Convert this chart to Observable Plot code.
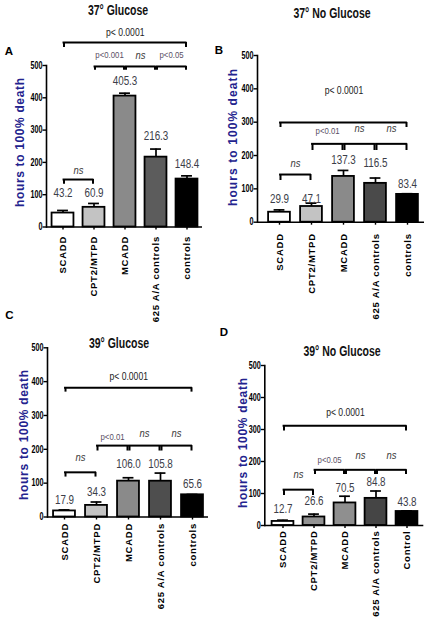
<!DOCTYPE html>
<html><head><meta charset="utf-8">
<script src="https://cdn.jsdelivr.net/npm/d3@7"></script>
<script src="https://cdn.jsdelivr.net/npm/@observablehq/plot@0.6"></script>
<style>
body{margin:0;background:#fff}
#root{position:relative;width:430px;height:618px;overflow:hidden;background:#fff}
.panel{position:absolute}
.panel svg{overflow:visible;background:transparent}
g[aria-label="y-axis tick label"] text{font-family:"Liberation Sans",Arial,sans-serif;font-weight:bold;font-size:10px}
g[aria-label="x-axis tick label"] text{font-family:"Liberation Sans",Arial,sans-serif;font-weight:bold;font-size:9.5px;letter-spacing:0.75px}
#overlay{position:absolute;left:0;top:0;pointer-events:none}
</style></head>
<body><div id="root"></div>
<script>
// ---------- data ----------
const categories = ["SCADD", "CPT2/MTPD", "MCADD", "625 A/A controls", "controls"];
const categoriesD = ["SCADD", "CPT2/MTPD", "MCADD", "625 A/A controls", "Control"];
const panelTitles = ["37° Glucose", "37° No Glucose", "39° Glucose", "39° No Glucose"];
const panelLetters = ["A", "B", "C", "D"];
const yLabel = "hours to 100% death";
const yTicks = [0, 100, 200, 300, 400, 500];

const meanA = [43.2, 60.9, 405.3, 216.3, 148.4];
const semA = [8, 12, 9, 25, 10];
const meanB = [29.9, 47.1, 137.3, 116.5, 83.4];
const semB = [7, 10, 18, 16, 2];
const meanC = [17.9, 34.3, 106.0, 105.8, 65.6];
const semC = [3, 10, 10, 24, 1];
const meanD = [12.7, 26.6, 70.5, 84.8, 43.8];
const semD = [4, 9, 21, 23, 2];

const pOverall = "p< 0.0001";
const pairsA = ["p<0.001", "ns", "p<0.05"];
const pairsB = ["p<0.01", "ns", "ns"];
const pairsC = ["p<0.01", "ns", "ns"];
const pairsD = ["p<0.05", "ns", "ns"];
const lowPair = "ns";

// ---------- layout / style ----------
const NARROW = 'Liberation Sans, Arial Narrow, sans-serif';   // squeezed horizontally after render
const ARIAL = '"Liberation Sans",Arial,sans-serif';
const layout = [
  {left:0, top:0, width:215, height:330, m:[65,13,103.5,46], xRange:[46.5,202], tickPad:6,
   fills:["#ffffff","#c3c3c3","#8a8a8a","#5c5c5c","#000000"], labelY:[105,105,452,280,196],
   outer:[571,556,601], inner:[497,485,534,530], low:[147,132,175],
   title:[118,10], letter:[9,51], ylab:[20,142.5,129]},
  {left:215, top:0, width:215, height:330, m:[55,6,108.3,42], xRange:[47.5,208.5], tickPad:8,
   fills:["#ffffff","#c3c3c3","#8a8a8a","#4a4a4a","#000000"], labelY:[70,70,185,176,115],
   outer:[299,284,395], inner:[235,215,275,281], low:[143,125,176],
   title:[332,13], letter:[219,50], ylab:[233,137.5,137]},
  {left:0, top:300, width:215, height:318, m:[47.3,7,101.5,47], xRange:[48,208.5], tickPad:3,
   fills:["#ffffff","#c3c3c3","#8a8a8a","#4e4e4e","#000000"], labelY:[51,73,157,157,98],
   outer:[382,369,415], inner:[211,195,236,246], low:[132,118,177],
   title:[119,342.7], letter:[9.5,315], ylab:[24,435,130]},
  {left:215, top:300, width:215, height:318, m:[65,6.7,93,49.3], xRange:[51,207], tickPad:2,
   fills:["#ffffff","#939393","#8f8f8f","#454545","#000000"], labelY:[52,76,118,135,73],
   outer:[312,295,354], inner:[174,159,205,219], low:[112,94,159],
   title:[342,350.7], letter:[224,331.5], ylab:[242.5,443,130]}
];

const root = document.getElementById("root");

function drawPanel(k) {
  const L = layout[k];
  const cats = k === 3 ? categoriesD : categories;
  const means = [meanA, meanB, meanC, meanD][k];
  const sems = [semA, semB, semC, semD][k];
  const pairs = [pairsA, pairsB, pairsC, pairsD][k];
  const rows = cats.map((c, i) => ({cat: c, mean: means[i], top: means[i] + sems[i],
    labelY: L.labelY[i], label: means[i].toFixed(1)}));
  const brackets = [
    {from: cats[0], to: cats[4], span: 4, label: pOverall, top: L.outer[0], tick: L.outer[1], textY: L.outer[2], kind: "outer"},
    ...pairs.map((p, j) => ({from: cats[j + 1], to: cats[j + 2], span: 1, label: p,
      top: L.inner[0], tick: L.inner[1], textY: p === "ns" ? L.inner[3] : L.inner[2], kind: "inner"})),
    {from: cats[0], to: cats[1], span: 1, label: lowPair, top: L.low[0], tick: L.low[1], textY: L.low[2], kind: "low"}
  ];
  const bw = (L.xRange[1] - L.xRange[0]) / cats.length;
  const gap = 1;
  const textStyle = (b) => {
    if (b.label === "ns") return {fontStyle: "italic", fontSize: 11.5, fill: "#3a3a3a", fontFamily: NARROW};
    if (b.kind === "outer") return {fontSize: 10.5, fill: "#222", fontFamily: NARROW};
    return {fontSize: 9.5, fill: "#5a4f66", fontFamily: NARROW};
  };
  const plot = Plot.plot({
    width: L.width, height: L.height,
    marginTop: L.m[0], marginRight: L.m[1], marginBottom: L.m[2], marginLeft: L.m[3],
    style: {background: "transparent", overflow: "visible", fontFamily: ARIAL, color: "#000"},
    x: {domain: cats, range: L.xRange, padding: 0},
    y: {domain: [0, 500]},
    color: {domain: cats, range: L.fills},
    marks: [
      Plot.barY(rows, {x: "cat", y: "mean", fill: "cat", stroke: "#000", strokeWidth: 1.8,
        insetLeft: (bw - 22) / 2, insetRight: (bw - 22) / 2}),
      Plot.ruleX(rows, {x: "cat", y1: "mean", y2: "top", stroke: "#000", strokeWidth: 1.7}),
      Plot.tickY(rows, {x: "cat", y: "top", stroke: "#000", strokeWidth: 1.7,
        insetLeft: (bw - 11) / 2, insetRight: (bw - 11) / 2}),
      Plot.text(rows, {x: "cat", y: "labelY", text: "label", fontFamily: NARROW, fontSize: 12, fill: "#3b3d48"}),
      Plot.ruleY(brackets, {x1: "from", x2: "to", y: "top", stroke: "#000", strokeWidth: 2,
        strokeLinecap: "square", insetLeft: bw / 2 + gap, insetRight: bw / 2 + gap}),
      Plot.ruleX(brackets, {x: "from", y1: "tick", y2: "top", stroke: "#000", strokeWidth: 2, dx: gap}),
      Plot.ruleX(brackets, {x: "to", y1: "tick", y2: "top", stroke: "#000", strokeWidth: 2, dx: -gap}),
      ...brackets.map(b => Plot.text([b], {x: "from", y: "textY", text: "label", dx: b.span * bw / 2, ...textStyle(b)})),
      Plot.axisY({ticks: yTicks, tickSize: 3.5, tickPadding: 0.5, label: null, stroke: "#000", strokeWidth: 1.4}),
      Plot.axisX({tickRotate: -90, tickSize: 3, tickPadding: L.tickPad, label: null, stroke: "#000", strokeWidth: 1.4}),
      Plot.ruleY([0], {stroke: "#000", strokeWidth: 1.6}),
      Plot.frame({anchor: "left", stroke: "#000", strokeWidth: 1.6})
    ]
  });
  const div = document.createElement("div");
  div.className = "panel";
  div.style.left = L.left + "px";
  div.style.top = L.top + "px";
  div.appendChild(plot);
  root.appendChild(div);
}

[0, 1, 2, 3].forEach(drawPanel);

// titles, panel letters, y-axis labels
const NS = "http://www.w3.org/2000/svg";
const ov = document.createElementNS(NS, "svg");
ov.setAttribute("id", "overlay");
ov.setAttribute("width", 430);
ov.setAttribute("height", 618);
function addText(txt, attrs, cls) {
  const t = document.createElementNS(NS, "text");
  for (const [a, v] of Object.entries(attrs)) t.setAttribute(a, v);
  if (cls) t.setAttribute("class", cls);
  t.textContent = txt;
  ov.appendChild(t);
}
layout.forEach((L, k) => {
  addText(panelTitles[k], {x: L.title[0], y: L.title[1], "text-anchor": "middle", "dominant-baseline": "central",
    "font-family": ARIAL, "font-weight": "bold", "font-size": 14, fill: "#111"}, "title");
  addText(panelLetters[k], {x: L.letter[0], y: L.letter[1], "text-anchor": "middle", "dominant-baseline": "central",
    "font-family": ARIAL, "font-weight": "bold", "font-size": 11.5, fill: "#000"});
  addText(yLabel, {x: 0, y: 0, transform: `translate(${L.ylab[0]},${L.ylab[1]}) rotate(-90)`,
    "text-anchor": "middle", "dominant-baseline": "central", "font-family": ARIAL, "font-weight": "bold",
    "font-size": 12, fill: "#23238e", textLength: L.ylab[2], lengthAdjust: "spacing"});
});
root.appendChild(ov);

// narrow-font look: compress glyphs horizontally
function squeeze(sel, f) {
  root.querySelectorAll(sel).forEach(t => {
    const w = t.getComputedTextLength();
    if (w > 0) { t.setAttribute("textLength", (w * f).toFixed(2)); t.setAttribute("lengthAdjust", "spacingAndGlyphs"); }
  });
}
squeeze('g[font-family*="Arial Narrow"] text', 0.82);
squeeze('g[aria-label="y-axis tick label"] text', 0.72);
squeeze('text.title', 0.75);
</script></body></html>
